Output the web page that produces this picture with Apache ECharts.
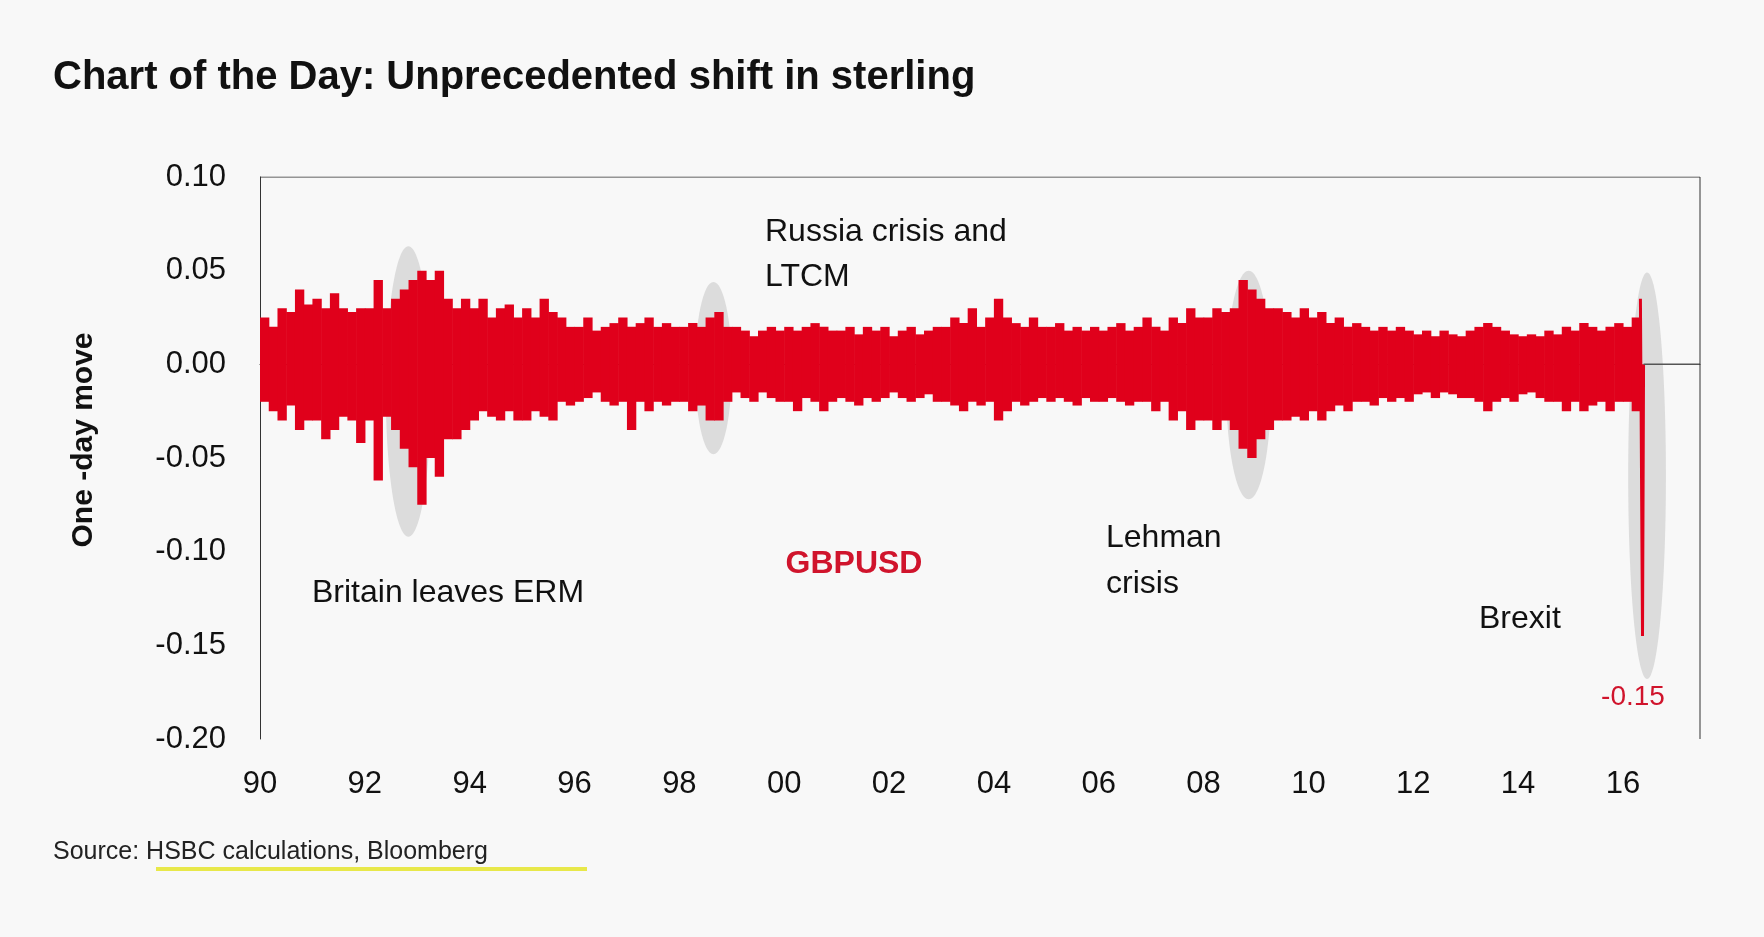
<!DOCTYPE html><html><head><meta charset="utf-8"><script src="https://cdn.jsdelivr.net/npm/echarts@6/dist/echarts.min.js"></script>
<style>html,body{margin:0;background:#f8f8f8}#c{width:1764px;height:937px}</style></head><body><div id="c"></div><script>
const startYear=1990;
// bi-monthly peak up-moves and down-moves
const highs=[
0.025,0.02,0.03,0.028,0.04,0.032, 0.035,0.03,0.038,0.03,0.028,0.03,
0.03,0.045,0.03,0.035,0.04,0.045, 0.05,0.045,0.05,0.035,0.03,0.035,
0.03,0.035,0.025,0.03,0.032,0.025, 0.03,0.025,0.035,0.028,0.025,0.02,
0.02,0.025,0.018,0.02,0.022,0.025, 0.02,0.022,0.025,0.02,0.022,0.02,
0.02,0.022,0.02,0.025,0.028,0.02, 0.02,0.018,0.015,0.018,0.02,0.018,
0.02,0.018,0.02,0.022,0.02,0.018, 0.018,0.02,0.016,0.02,0.018,0.02,
0.015,0.018,0.02,0.016,0.018,0.02, 0.02,0.025,0.022,0.03,0.02,0.025,
0.035,0.025,0.022,0.02,0.025,0.02, 0.02,0.022,0.018,0.02,0.018,0.02,
0.018,0.02,0.022,0.018,0.02,0.025, 0.02,0.018,0.025,0.022,0.03,0.025,
0.025,0.03,0.028,0.03,0.045,0.04, 0.035,0.03,0.03,0.028,0.025,0.03,
0.025,0.028,0.022,0.025,0.02,0.022, 0.02,0.018,0.02,0.018,0.02,0.018,
0.016,0.018,0.015,0.018,0.016,0.015, 0.018,0.02,0.022,0.02,0.018,0.016,
0.015,0.016,0.015,0.018,0.016,0.02, 0.018,0.022,0.02,0.018,0.02,0.022,
0.02,0.025,0.035];
const lows=[
-0.02,-0.025,-0.03,-0.022,-0.035,-0.03, -0.03,-0.04,-0.035,-0.028,-0.03,-0.042,
-0.03,-0.062,-0.028,-0.035,-0.045,-0.055, -0.075,-0.05,-0.06,-0.04,-0.04,-0.035,
-0.03,-0.025,-0.028,-0.03,-0.025,-0.03, -0.03,-0.025,-0.028,-0.03,-0.02,-0.022,
-0.02,-0.018,-0.015,-0.02,-0.022,-0.02, -0.035,-0.02,-0.025,-0.02,-0.022,-0.02,
-0.02,-0.025,-0.022,-0.03,-0.03,-0.02, -0.015,-0.018,-0.02,-0.015,-0.018,-0.02,
-0.02,-0.025,-0.018,-0.02,-0.025,-0.02, -0.018,-0.02,-0.022,-0.018,-0.02,-0.018,
-0.015,-0.018,-0.02,-0.018,-0.016,-0.02, -0.02,-0.022,-0.025,-0.02,-0.022,-0.02,
-0.03,-0.025,-0.02,-0.022,-0.02,-0.018, -0.02,-0.018,-0.02,-0.022,-0.018,-0.02,
-0.02,-0.018,-0.02,-0.022,-0.02,-0.02, -0.025,-0.02,-0.03,-0.025,-0.035,-0.03,
-0.03,-0.035,-0.03,-0.035,-0.045,-0.05, -0.04,-0.035,-0.03,-0.03,-0.028,-0.03,
-0.025,-0.03,-0.025,-0.022,-0.025,-0.02, -0.02,-0.022,-0.018,-0.02,-0.018,-0.02,
-0.016,-0.015,-0.018,-0.015,-0.016,-0.018, -0.018,-0.02,-0.025,-0.02,-0.018,-0.02,
-0.016,-0.015,-0.018,-0.02,-0.02,-0.025, -0.02,-0.025,-0.022,-0.02,-0.025,-0.02,
-0.02,-0.025,-0.145];
const ellipses=[[1992.4,1993.26,0.063,-0.092],[1998.3,1999.0,0.044,-0.048],[2008.43,2009.29,0.05,-0.072],[2016.1,2016.82,0.049,-0.168]];
const n=highs.length;
const bands=highs.slice(0,n-1).map((h,i)=>[startYear+i/6,startYear+(i+1)/6,h,lows[i]]);
const spike=[[startYear+(n-1)/6,highs[n-1]],[startYear+(n-1)/6+0.04,lows[n-1]],[startYear+(n-1)/6+0.06,0]];
const endX=spike[2][0];
const ch=echarts.init(document.getElementById('c'));
const F='Liberation Sans, Arial, sans-serif';
ch.setOption({backgroundColor:'#f8f8f8',animation:false,
grid:{left:260,right:64,top:177,bottom:198},
xAxis:{type:'value',min:1990,max:2017.47,interval:2,axisLine:{show:true,lineStyle:{color:'#333'}},axisTick:{show:false},splitLine:{show:false},
 axisLabel:{fontFamily:F,fontSize:31,color:'#111',margin:30,formatter:v=>(v>2016.5?'':String(Math.round(v)%100).padStart(2,'0'))}},
yAxis:{type:'value',min:-0.2,max:0.1,interval:0.05,axisLine:{show:true,lineStyle:{color:'#333'}},axisTick:{show:false},splitLine:{show:false},
 axisLabel:{fontFamily:F,fontSize:31,color:'#111',margin:34,formatter:v=>v.toFixed(2)}},
series:[
{type:'custom',silent:true,z:1,data:ellipses,renderItem:(p,api)=>{const a=api.coord([api.value(0),api.value(2)]),b=api.coord([api.value(1),api.value(3)]);
 return {type:'ellipse',shape:{cx:(a[0]+b[0])/2,cy:(a[1]+b[1])/2,rx:Math.abs(b[0]-a[0])/2,ry:Math.abs(b[1]-a[1])/2},style:{fill:'#dcdcdc'}};}},
{type:'custom',silent:true,z:3,data:bands,renderItem:(p,api)=>{const a=api.coord([api.value(0),api.value(2)]),b=api.coord([api.value(1),api.value(3)]);
 return {type:'rect',shape:{x:a[0],y:a[1],width:b[0]-a[0]+0.6,height:b[1]-a[1]},style:{fill:'#e0001b'}};}},
{type:'line',data:spike,symbol:'none',z:3,lineStyle:{color:'#e0001b',width:3}},
{type:'line',data:[[endX,0],[2017.47,0]],symbol:'none',z:3,lineStyle:{color:'#555',width:1.5}},
{type:'line',data:[[1990,0.1],[2017.47,0.1]],symbol:'none',lineStyle:{color:'#333',width:1}},
{type:'line',data:[[2017.47,0.1],[2017.47,-0.2]],symbol:'none',lineStyle:{color:'#333',width:1}}
],
graphic:[
{type:'text',left:53,top:58,style:{text:'Chart of the Day: Unprecedented shift in sterling',font:'bold 40px '+F,fill:'#111'}},
{type:'text',x:84,y:440,rotation:Math.PI/2,style:{text:'One -day move',font:'bold 30px '+F,fill:'#111',align:'center',verticalAlign:'middle'}},
{type:'text',x:312,y:593,style:{text:'Britain leaves ERM',font:'32px '+F,fill:'#111',verticalAlign:'middle'}},
{type:'text',x:765,y:210,style:{text:'Russia crisis and\nLTCM',font:'32px '+F,fill:'#111',lineHeight:45}},
{type:'text',x:854,y:564,style:{text:'GBPUSD',font:'bold 32px '+F,fill:'#d0142c',align:'center',verticalAlign:'middle'}},
{type:'text',x:1106,y:515,style:{text:'Lehman\ncrisis',font:'32px '+F,fill:'#111',lineHeight:46}},
{type:'text',x:1479,y:619,style:{text:'Brexit',font:'32px '+F,fill:'#111',verticalAlign:'middle'}},
{type:'text',x:1633,y:697,style:{text:'-0.15',font:'28px '+F,fill:'#d0142c',align:'center',verticalAlign:'middle'}},
{type:'text',x:53,y:852,style:{text:'Source: HSBC calculations, Bloomberg',font:'25px '+F,fill:'#222',verticalAlign:'middle'}},
{type:'line',shape:{x1:156,y1:869,x2:587,y2:869},style:{stroke:'#e8e84a',lineWidth:4}}
]});
</script></body></html>
